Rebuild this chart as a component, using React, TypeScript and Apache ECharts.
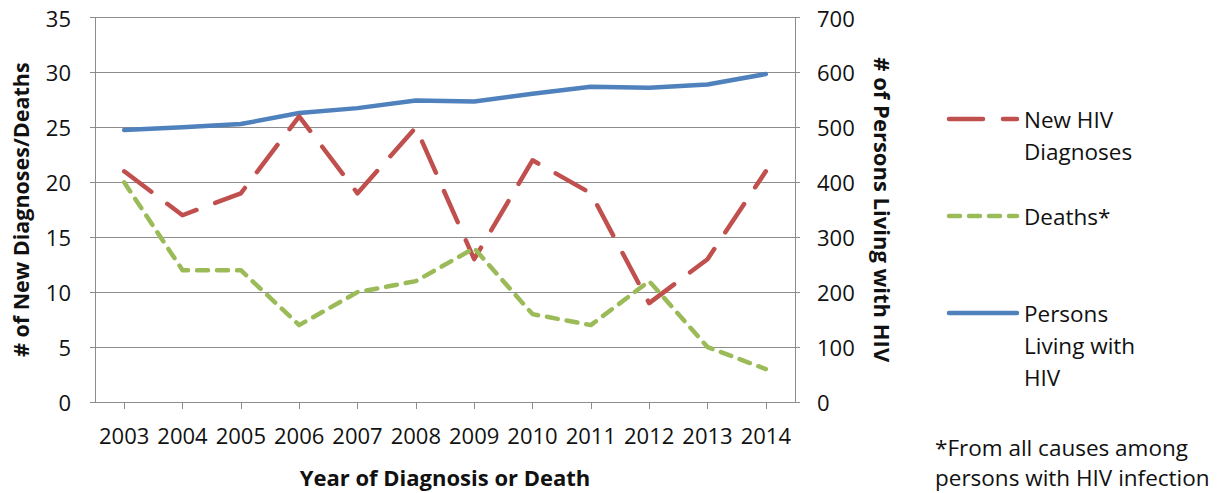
import React, { useEffect, useRef } from "react";
import * as echarts from "echarts";

const years = ["2003", "2004", "2005", "2006", "2007", "2008", "2009", "2010", "2011", "2012", "2013", "2014"];
const newDiagnoses = [21, 17, 19, 26, 19, 25, 13, 22, 19, 9, 13, 21];
const deaths = [20, 12, 12, 7, 10, 11, 14, 8, 7, 11, 5, 3];
const personsLiving = [495, 500, 506, 526, 535, 549, 547, 561, 574, 572, 578, 597];

const legendItems = [
  { name: "New HIV\nDiagnoses", color: "#C0504D", dash: [34, 20] },
  { name: "Deaths*", color: "#9BBB59", dash: [11, 9] },
  { name: "Persons\nLiving with\nHIV", color: "#4F81BD", dash: null as number[] | null },
];
const footnote = "*From all causes among\npersons with HIV infection";

const FONT = "'Open Sans', sans-serif";
const GRID_COLOR = "#8C8C8C";
const TEXT = "#111111";

export default function App() {
  const ref = useRef<HTMLDivElement>(null);
  useEffect(() => {
    if (!ref.current) return;
    const chart = echarts.init(ref.current, null, { renderer: "svg" });
    const legendGraphics: any[] = [];
    legendItems.forEach((it, i) => {
      const y = 119 + i * 97;
      legendGraphics.push({
        type: "line",
        shape: { x1: 949, y1: y, x2: 1017, y2: y },
        style: { stroke: it.color, lineWidth: 4.5, lineDash: it.dash || undefined, lineCap: "round" },
      });
      legendGraphics.push({
        type: "text",
        x: 1024,
        y: y - 16,
        style: { text: it.name, font: `22.5px ${FONT}`, fill: TEXT, lineHeight: 32, textVerticalAlign: "top" },
      });
    });
    legendGraphics.push({
      type: "text",
      x: 935,
      y: 432,
      style: { text: footnote, font: `22.5px ${FONT}`, fill: TEXT, lineHeight: 30, textVerticalAlign: "top" },
    });

    chart.setOption({
      animation: false,
      textStyle: { fontFamily: FONT },
      grid: { left: 95, top: 17.5, width: 700, height: 385, containLabel: false },
      xAxis: {
        type: "category",
        data: years,
        boundaryGap: true,
        axisLine: { lineStyle: { color: GRID_COLOR, width: 1 } },
        axisTick: { show: true, alignWithLabel: true, length: 7, lineStyle: { color: GRID_COLOR } },
        axisLabel: { color: TEXT, fontSize: 22, margin: 22, fontFamily: FONT, interval: 0 },
        name: "Year of Diagnosis or Death",
        nameLocation: "middle",
        nameGap: 64,
        nameTextStyle: { color: TEXT, fontSize: 22, fontWeight: "bold", fontFamily: FONT },
      },
      yAxis: [
        {
          type: "value",
          min: 0,
          max: 35,
          interval: 5,
          axisLine: { show: true, lineStyle: { color: GRID_COLOR, width: 1 } },
          axisTick: { show: true, length: 5, lineStyle: { color: GRID_COLOR } },
          splitLine: { show: true, lineStyle: { color: GRID_COLOR, width: 1 } },
          axisLabel: { color: TEXT, fontSize: 22, margin: 24, fontFamily: FONT },
          name: "# of New Diagnoses/Deaths",
          nameLocation: "middle",
          nameRotate: 90,
          nameGap: 64,
          nameTextStyle: { color: TEXT, fontSize: 21.5, fontWeight: "bold", fontFamily: FONT },
        },
        {
          type: "value",
          min: 0,
          max: 700,
          interval: 100,
          position: "right",
          axisLine: { show: true, lineStyle: { color: GRID_COLOR, width: 1 } },
          axisTick: { show: true, length: 5, lineStyle: { color: GRID_COLOR } },
          splitLine: { show: false },
          axisLabel: { color: TEXT, fontSize: 22, margin: 22, fontFamily: FONT },
          name: "# of Persons Living with HIV",
          nameLocation: "middle",
          nameRotate: -90,
          nameGap: 77,
          nameTextStyle: { color: TEXT, fontSize: 22, fontWeight: "bold", fontFamily: FONT },
        },
      ],
      series: [
        {
          name: "Persons Living with HIV",
          type: "line",
          yAxisIndex: 1,
          data: personsLiving,
          symbol: "none",
          lineStyle: { color: "#4F81BD", width: 4.5, cap: "round", join: "round" },
        },
        {
          name: "New HIV Diagnoses",
          type: "line",
          yAxisIndex: 0,
          data: newDiagnoses,
          symbol: "none",
          lineStyle: { color: "#C0504D", width: 4.5, type: [34, 20], cap: "round", join: "round" },
        },
        {
          name: "Deaths*",
          type: "line",
          yAxisIndex: 0,
          data: deaths,
          symbol: "none",
          lineStyle: { color: "#9BBB59", width: 4.5, type: [11, 9], cap: "round", join: "round" },
        },
      ],
      graphic: legendGraphics,
    });
    return () => chart.dispose();
  }, []);
  return <div ref={ref} style={{ position: "fixed", left: 0, top: 0, width: 1226, height: 493, background: "#fff" }} />;
}
